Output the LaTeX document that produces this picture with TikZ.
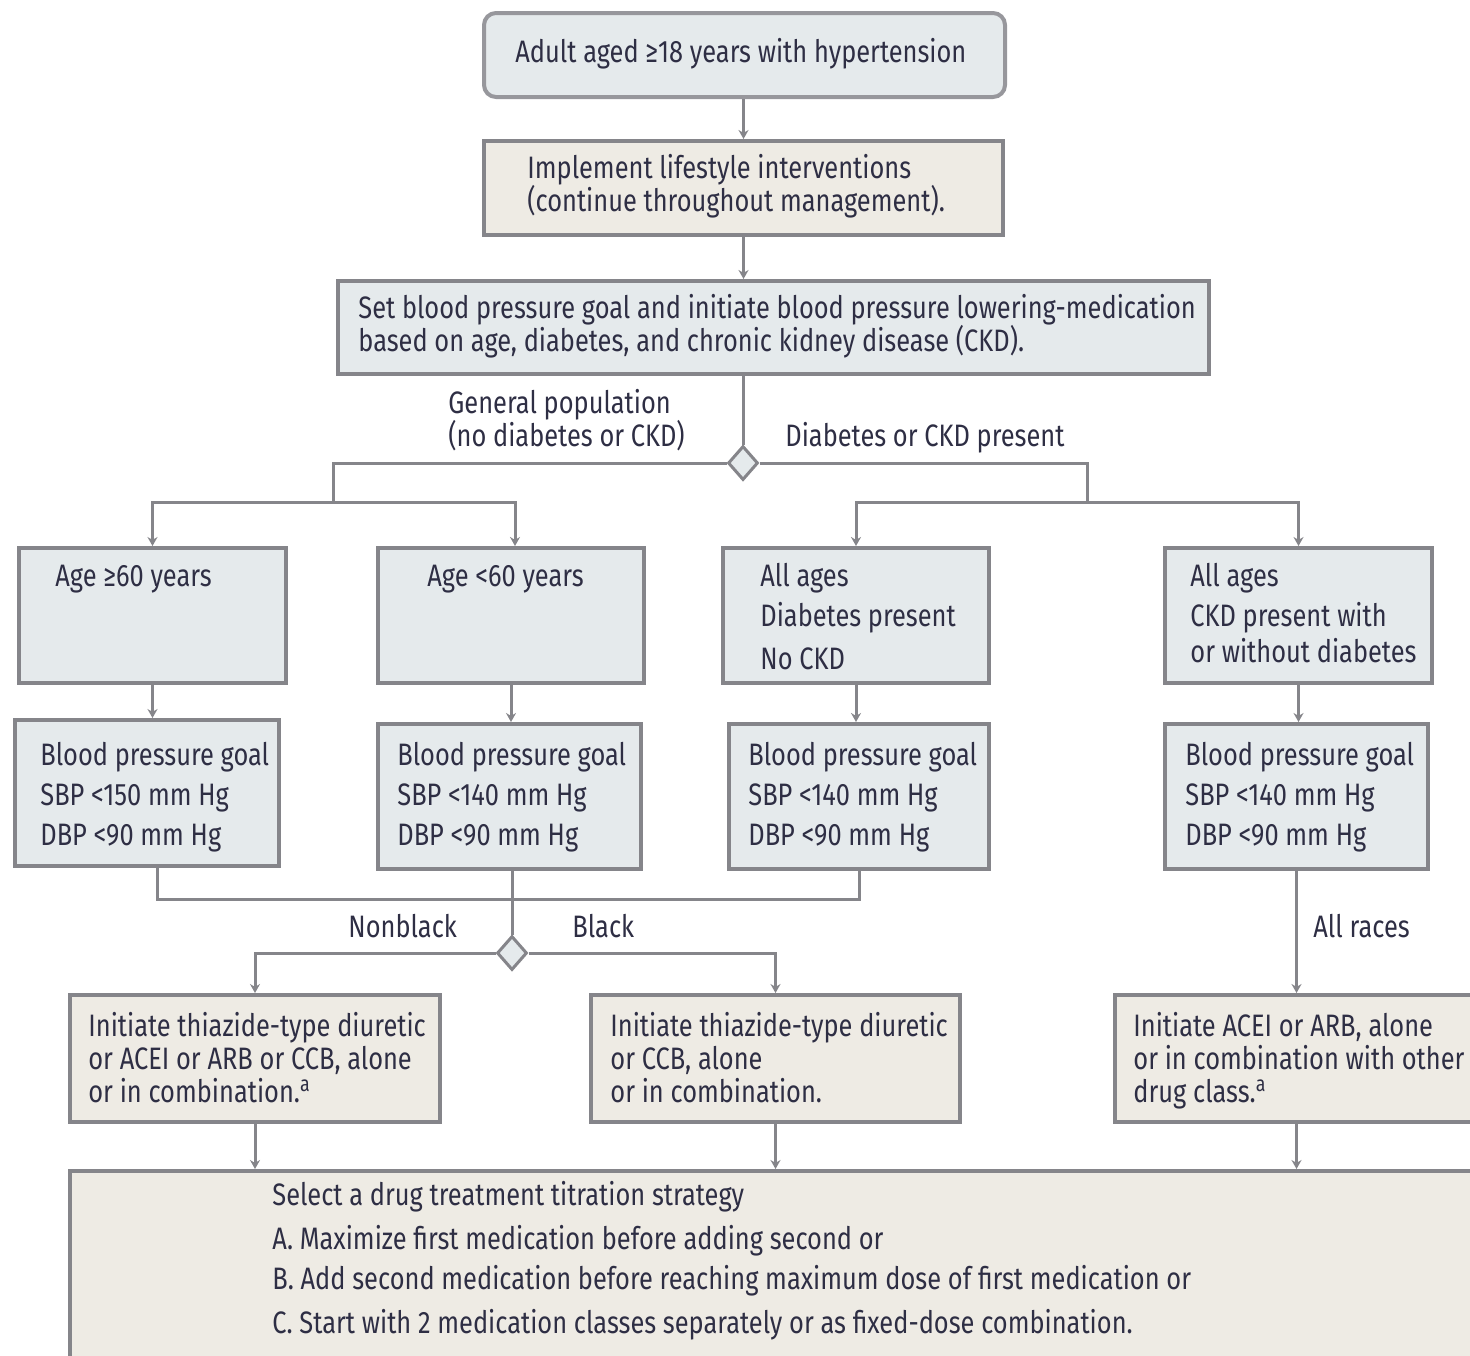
\documentclass[tikz,border=0pt]{standalone}
\usepackage{fontspec}
\setmainfont{Fira Sans}[FakeStretch=0.82]
\usetikzlibrary{shapes.geometric,fit,arrows.meta}
\definecolor{lnc}{HTML}{85858A}
\definecolor{bluef}{HTML}{E5EAEC}
\definecolor{beigef}{HTML}{EEEBE4}
\definecolor{txc}{HTML}{2E2E44}
\tikzset{
  bluebox/.style={draw=lnc, line width=2pt, fill=bluef, inner sep=0pt},
  beigebox/.style={draw=lnc, line width=2pt, fill=beigef, inner sep=0pt},
  topbox/.style={draw=lnc!85, line width=2pt, fill=bluef, inner sep=0pt, rounded corners=6pt},
  txt/.style={anchor=base west, inner sep=0pt, text=txc, font=\fontsize{15.5}{20}\selectfont},
  conn/.style={draw=lnc, line width=1.5pt},
  arr/.style={conn, -{Stealth[length=4.5pt,width=5pt]}},
  dmd/.style={diamond, draw=lnc, line width=1.5pt, fill=bluef, minimum width=15pt, minimum height=17pt, inner sep=0pt},
}
\newcommand{\mkbox}[6]{%
  \coordinate (#1-nw) at (#3,#4);
  \coordinate (#1-se) at (#5,#6);
  \node[#2, fit=(#1-nw)(#1-se)] (#1) {};}
\begin{document}
\begin{tikzpicture}[x=0.5pt,y=-0.5pt]
\useasboundingbox (0,0) rectangle (1470,1355);
\clip (0,0) rectangle (1470,1355);
% boxes
\mkbox{top}{topbox}{484}{13}{1005}{97}
\mkbox{life}{beigebox}{484}{141}{1003}{235}
\mkbox{goal}{bluebox}{338}{281}{1209}{374}
\mkbox{A}{bluebox}{19}{548}{286}{683}
\mkbox{B}{bluebox}{378}{548}{644}{683}
\mkbox{C}{bluebox}{723}{548}{989}{683}
\mkbox{D}{bluebox}{1165}{548}{1432}{683}
\mkbox{bpA}{bluebox}{15}{720}{279}{866}
\mkbox{bpB}{bluebox}{378}{724}{641}{869}
\mkbox{bpC}{bluebox}{729}{724}{989}{869}
\mkbox{bpD}{bluebox}{1165}{724}{1428}{869}
\mkbox{E}{beigebox}{70}{995}{440}{1122}
\mkbox{F}{beigebox}{591}{995}{960}{1122}
\mkbox{G}{beigebox}{1115}{995}{1480}{1122}
\mkbox{fin}{beigebox}{70}{1171}{1480}{1370}
% diamonds
\node[dmd] (d1) at (743,463) {};
\node[dmd] (d2) at (512,953) {};
% connectors
\draw[arr] (life.north |- top.south) -- (life.north);
\draw[arr] (life.south) -- (life.south |- goal.north);
\draw[conn] (goal.south -| d1.north) -- (d1.north);
\coordinate (bl) at (333,502);
\coordinate (br) at (1087,502);
\draw[conn] (d1.west) -| (bl);
\draw[arr] (bl) -| (A.north);
\draw[arr] (bl) -| ([xshift=2pt]B.north);
\draw[conn] (d1.east) -| (br);
\draw[arr] (br) -| (C.north);
\draw[arr] (br) -| (D.north);
\draw[arr] (A.south) -- (A.south |- bpA.north);
\draw[arr] (B.south) -- (B.south |- bpB.north);
\draw[arr] (C.south) -- (C.south |- bpC.north);
\draw[arr] (D.south) -- (D.south |- bpD.north);
\coordinate (m) at (512,899);
\draw[conn] ([xshift=5pt]bpA.south) |- (m);
\draw[conn] (bpC.south) |- (m);
\draw[conn] (bpB.south -| d2.north) -- (d2.north);
\draw[arr] (d2.west) -| (E.north);
\draw[arr] (d2.east) -| (F.north);
\draw[arr] (bpD.south) -- (bpD.south |- G.north);
\draw[arr] (E.south) -- (E.south |- fin.north);
\draw[arr] (F.south) -- (F.south |- fin.north);
\draw[arr] (G.south -| bpD.south) -- (bpD.south |- fin.north);
% texts
\node[txt] (t1) at (515,62) {Adult aged ≥18 years with hypertension};
\node[txt] (t2a) at (527,178) {Implement lifestyle interventions};
\node[txt] (t2b) at (527,211) {(continue throughout management).};
\node[txt] (t3a) at (358,318) {Set blood pressure goal and initiate blood pressure lowering-medication};
\node[txt] (t3b) at (358,351) {based on age, diabetes, and chronic kidney disease (CKD).};
\node[txt] (l1a) at (448,413) {General population};
\node[txt] (l1b) at (448,446) {(no diabetes or CKD)};
\node[txt] (l2) at (785,446) {Diabetes or CKD present};
\node[txt] (ta) at (55,586) {Age ≥60 years};
\node[txt] (tb) at (427,586) {Age <60 years};
\node[txt] (tc1) at (760,586) {All ages};
\node[txt] (tc2) at (760,626) {Diabetes present};
\node[txt] (tc3) at (760,669) {No CKD};
\node[txt] (td1) at (1190,586) {All ages};
\node[txt] (td2) at (1190,626) {CKD present with};
\node[txt] (td3) at (1190,662) {or without diabetes};
\node[txt] (ga1) at (40,765) {Blood pressure goal};
\node[txt] (ga2) at (40,805) {SBP <150 mm Hg};
\node[txt] (ga3) at (40,845) {DBP <90 mm Hg};
\node[txt] (gb1) at (397,765) {Blood pressure goal};
\node[txt] (gb2) at (397,805) {SBP <140 mm Hg};
\node[txt] (gb3) at (397,845) {DBP <90 mm Hg};
\node[txt] (gc1) at (748,765) {Blood pressure goal};
\node[txt] (gc2) at (748,805) {SBP <140 mm Hg};
\node[txt] (gc3) at (748,845) {DBP <90 mm Hg};
\node[txt] (gd1) at (1185,765) {Blood pressure goal};
\node[txt] (gd2) at (1185,805) {SBP <140 mm Hg};
\node[txt] (gd3) at (1185,845) {DBP <90 mm Hg};
\node[txt] (nb) at (348,937) {Nonblack};
\node[txt] (bk) at (572,937) {Black};
\node[txt] (ar) at (1313,937) {All races};
\node[txt] (e1) at (88,1036) {Initiate thiazide-type diuretic};
\node[txt] (e2) at (88,1069) {or ACEI or ARB or CCB, alone};
\node[txt] (e3) at (88,1102) {or in combination.\textsuperscript{a}};
\node[txt] (f1) at (610,1036) {Initiate thiazide-type diuretic};
\node[txt] (f2) at (610,1069) {or CCB, alone};
\node[txt] (f3) at (610,1102) {or in combination.};
\node[txt] (g1) at (1133,1036) {Initiate ACEI or ARB, alone};
\node[txt] (g2) at (1133,1069) {or in combination with other};
\node[txt] (g3) at (1133,1102) {drug class.\textsuperscript{a}};
\node[txt] (s0) at (272,1205) {Select a drug treatment titration strategy};
\node[txt] (s1) at (272,1249) {A. Maximize first medication before adding second or};
\node[txt] (s2) at (272,1289) {B. Add second medication before reaching maximum dose of first medication or};
\node[txt] (s3) at (272,1333) {C. Start with 2 medication classes separately or as fixed-dose combination.};
\end{tikzpicture}
\end{document}
